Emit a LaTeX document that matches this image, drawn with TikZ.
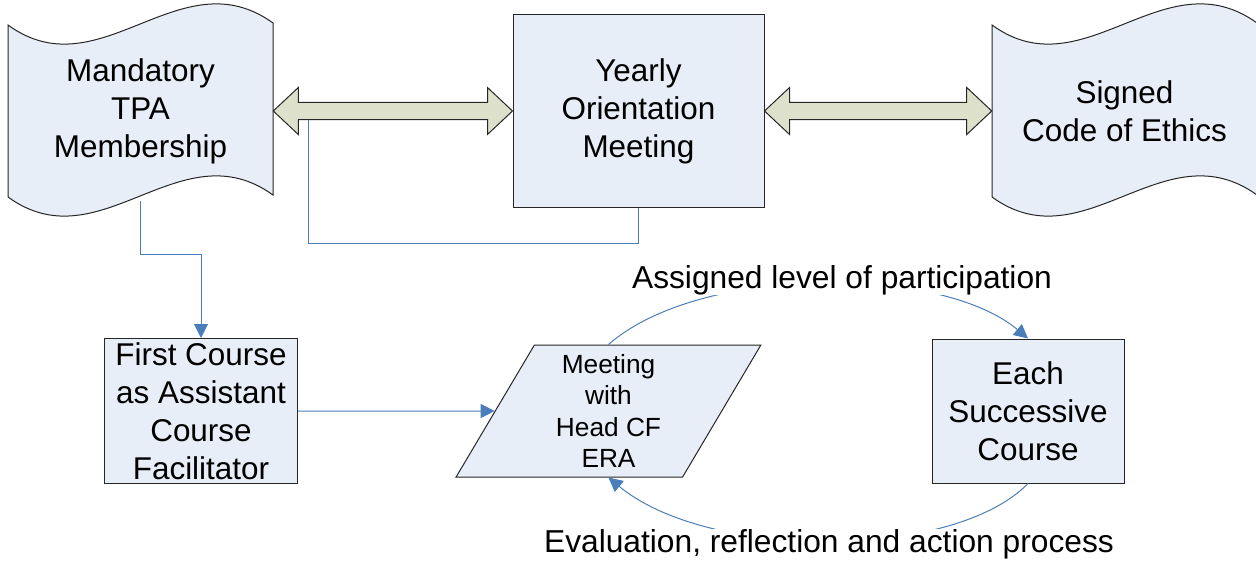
\documentclass[tikz,border=0pt]{standalone}
\usepackage{fontspec}
\setmainfont{Liberation Sans}
\usepackage{tikz}
\usetikzlibrary{shapes.geometric, arrows.meta, calc}
\definecolor{boxfill}{HTML}{E8EEF7}
\definecolor{arrowfill}{HTML}{DDE1CB}
\definecolor{linkblue}{HTML}{4A7EBB}
\tikzset{
    docline/.style={draw=black!85, line width=0.75pt, fill=boxfill},
    doctext/.style={align=center, minimum width=198.75pt, minimum height=135pt, inner sep=0pt, font=\fontsize{23.6}{28.5}\selectfont},
    procbox/.style={rectangle, draw=black!85, line width=0.75pt, fill=boxfill, align=center, inner sep=0pt, font=\fontsize{23.6}{28.5}\selectfont},
    iobox/.style={trapezium, trapezium left angle=63.8, trapezium right angle=116.2, trapezium stretches=true, draw=black!85, line width=0.75pt, fill=boxfill, align=center, minimum width=228.75pt, minimum height=99pt, inner sep=1pt, font=\fontsize{19.7}{23.5}\selectfont},
    dblarrow/.style={draw=black!85, line width=0.75pt, fill=arrowfill},
    link/.style={draw=linkblue, line width=0.75pt},
    arrow/.style={link, -{Triangle[length=10.5pt, width=10.5pt]}},
    flowlabel/.style={fill=white, inner xsep=2pt, inner ysep=0pt, font=\fontsize{23.8}{28.5}\selectfont}
}
\newcommand{\wavedoc}[1]{%
    \filldraw[docline, shift={#1}] (0,22) .. controls (92,89) and (172,-47) .. (265,20)
        -- (265,192) .. controls (172,125) and (92,261) .. (0,194) -- cycle;}
\newcommand{\dblarrow}[2]{%
    \filldraw[dblarrow] let \p1=(#1), \p2=(#2) in
        (\x1,\y1) -- (\x1+18.75pt,\y1+17.6pt) -- (\x1+18.75pt,\y1+6.4pt)
        -- (\x2-18.75pt,\y1+6.4pt) -- (\x2-18.75pt,\y1+17.6pt) -- (\x2,\y1)
        -- (\x2-18.75pt,\y1-17.6pt) -- (\x2-18.75pt,\y1-6.4pt)
        -- (\x1+18.75pt,\y1-6.4pt) -- (\x1+18.75pt,\y1-17.6pt) -- cycle;}

\begin{document}
\begin{tikzpicture}[x=0.75pt, y=-0.75pt]
    \useasboundingbox (0,0) rectangle (1256,563);
    % top row
    \wavedoc{(8,3)}
    \wavedoc{(992,3)}
    \node[doctext] (mand) at (140.5,111) {Mandatory\\TPA\\Membership};
    \node[procbox, minimum width=188.25pt, minimum height=144pt] (year) at (638.5,111) {Yearly\\Orientation\\Meeting};
    \node[doctext] (sign) at (1124.5,111) {Signed\\Code of Ethics};
    \dblarrow{mand.east}{year.west}
    \dblarrow{year.east}{sign.west}

    % bottom row
    \node[procbox, minimum width=144.75pt, minimum height=108.75pt] (first) at (201,411) {First Course\\as Assistant\\Course\\Facilitator};
    \node[iobox] (meet) at (608.5,411) {Meeting\\with\\Head CF\\ERA};
    \node[procbox, minimum width=144pt, minimum height=108pt] (succ) at (1028,411) {Each\\Successive\\Course};

    % connectors
    \coordinate (shaft) at (308,120);
    \draw[link] (shaft) |- ([yshift=-27pt]year.south) -- (year.south);
    \draw[arrow] (mand.south) |- ([yshift=62.6pt]first.north) -- (first.north);
    \draw[arrow] (first.east) -- (meet);
    \draw[arrow] (meet.north) .. controls +(91.5,-80) and +(-88,-74) .. (succ.north);
    \node[flowlabel, anchor=base] (assign) at (842,288) {Assigned level of participation};
    \draw[arrow] (succ.south) .. controls +(-75,77) and +(100,83) .. (meet.south);
    \node[flowlabel, anchor=base] (evalu) at (829,552) {Evaluation, reflection and action process};
\end{tikzpicture}
\end{document}
